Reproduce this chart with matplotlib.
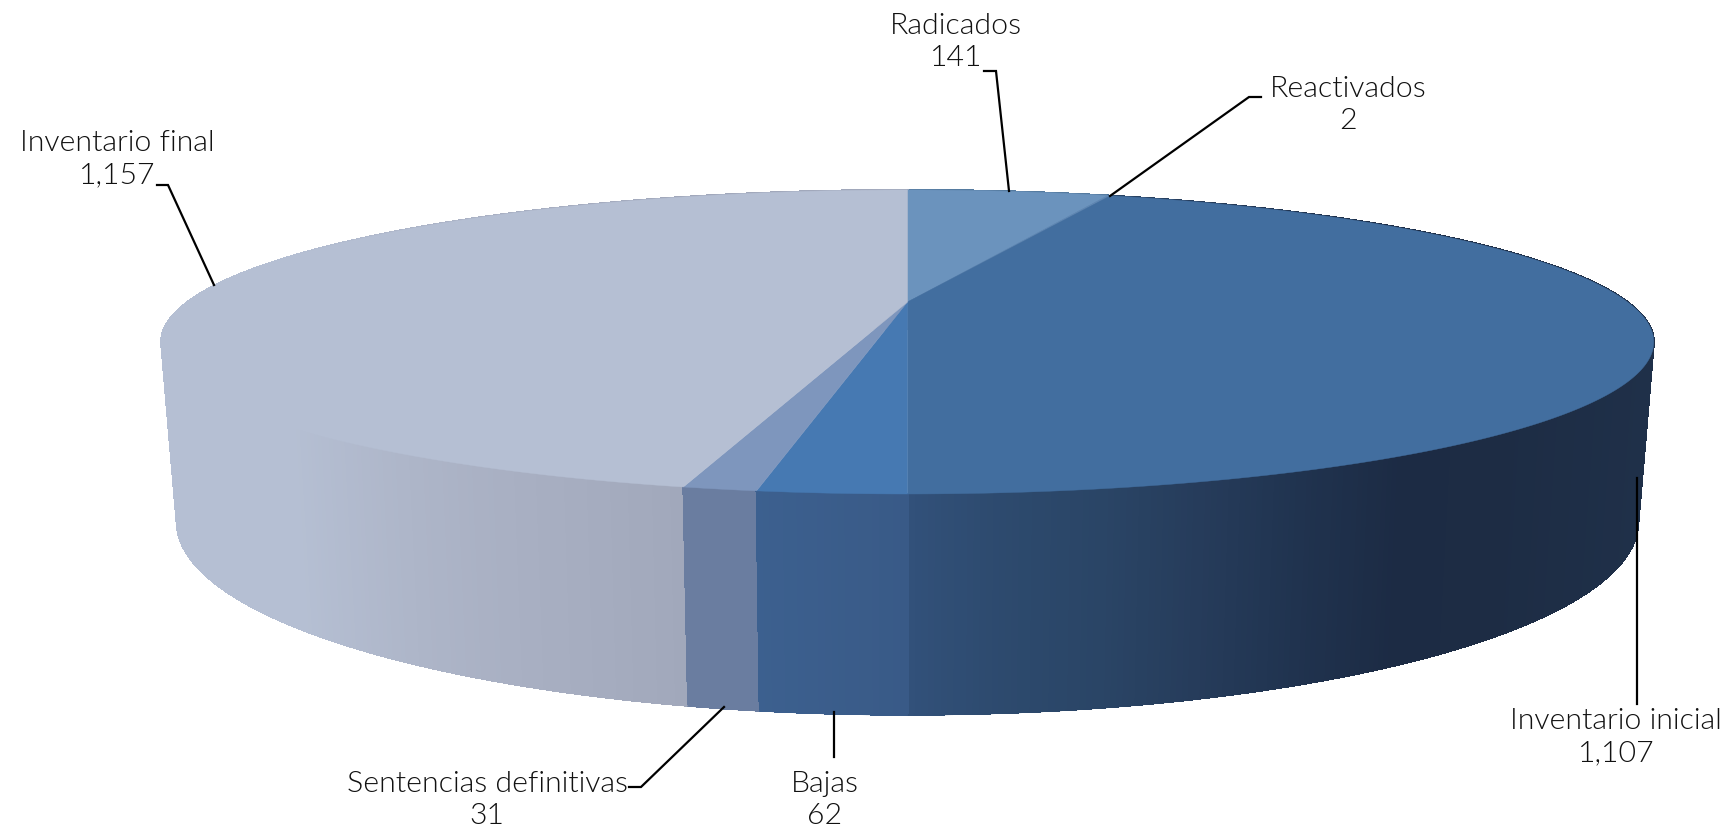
import numpy as np
import matplotlib
matplotlib.use("Agg")
import matplotlib.pyplot as plt
from matplotlib.collections import PolyCollection, LineCollection
from matplotlib.colors import to_rgb

# slices, clockwise from 12 o'clock
categories = ["Radicados", "Reactivados", "Inventario inicial", "Bajas",
              "Sentencias definitivas", "Inventario final"]
values = [141, 2, 1107, 62, 31, 1157]

top_colors = ["#6b93bd", "#5f86b2", "#426e9f", "#4679b2", "#7e96bd", "#b5bfd3"]
# side shading: (screen x, colour) stops for each slice
side_stops = [
    [(900, "#557ba0")],
    [(1100, "#4a6f95")],
    [(907, "#32517a"), (1000, "#2d4a6e"), (1100, "#2a4566"), (1200, "#263c5b"),
     (1300, "#20334f"), (1400, "#1c2b44"), (1500, "#1d2c44"), (1650, "#1f3049")],
    [(757, "#3c608f"), (907, "#395a87")],
    [(684, "#6a7da0"), (757, "#6a7da0")],
    [(160, "#b5bfd3"), (293, "#b5bfd3"), (400, "#aeb6c9"), (500, "#a9b0c3"),
     (600, "#a5acbf"), (684, "#a1a8bb")],
]

# label anchor (centre of the two lines) and leader line, in pixels
label_xy = [(956, 42), (1348, 105), (117, 159), (1616, 737), (487, 800), (825, 800)]
label_order = ["Radicados", "Reactivados", "Inventario final", "Inventario inicial",
               "Sentencias definitivas", "Bajas"]
leaders = [
    [(984, 71), (996, 71), (1009, 191)],
    [(1261, 97), (1249, 97), (1110, 196)],
    [(157, 185), (168, 185), (214, 285)],
    [(1637, 478), (1637, 704)],
    [(724, 707), (641, 787), (629, 787)],
    [(834, 712), (834, 757)],
]

CX = 907.5
K = 0.263


def project(theta, a, b, y0):
    """Disc angle (clockwise from the back) to screen position, with perspective."""
    u, v = np.sin(theta), np.cos(theta)
    w = 1 + K * v
    return CX + a * u / w, y0 - b * v / w


def top_rim(theta):
    return project(theta, 720, 141.5, 302)


def bottom_rim(theta):
    return project(theta, 705, 179.6, 471)


fig = plt.figure(figsize=(17.35, 8.3), dpi=100)
ax = fig.add_axes([0, 0, 1, 1])
ax.set_xlim(0, 1735)
ax.set_ylim(830, 0)
ax.axis("off")

edges = np.concatenate([[0], np.cumsum(values)]) / sum(values) * 2 * np.pi

strips, strip_colors, strip_depth, rim_segs = [], [], [], []
for i in range(len(values)):
    t = np.linspace(edges[i], edges[i + 1], max(int((edges[i + 1] - edges[i]) * 150), 2))
    xt, yt = top_rim(t)
    xb, yb = bottom_rim(t)
    sx = [s[0] for s in side_stops[i]]
    sc = np.array([to_rgb(s[1]) for s in side_stops[i]])
    for j in range(len(t) - 1):
        strips.append([(xt[j], yt[j]), (xt[j + 1], yt[j + 1]), (xb[j + 1], yb[j + 1]), (xb[j], yb[j])])
        rim_segs.append([(xb[j], yb[j]), (xb[j + 1], yb[j + 1])])
        mid = (xt[j] + xt[j + 1]) / 2
        strip_colors.append([np.interp(mid, sx, sc[:, c]) for c in range(3)])
        strip_depth.append(np.cos(t[j]))

# back strips first so the front ones cover them; no antialiasing or the seams show
order = np.argsort(strip_depth)[::-1]
ax.add_collection(PolyCollection([strips[o] for o in order],
                                 facecolors=[strip_colors[o] for o in order],
                                 edgecolors=[strip_colors[o] for o in order],
                                 linewidths=0.8, antialiaseds=False, zorder=1))
# smooth the lower edge again
ax.add_collection(LineCollection([rim_segs[o] for o in order],
                                 colors=[strip_colors[o] for o in order],
                                 linewidths=1.0, capstyle="round", zorder=1))

for i in range(len(values)):
    t = np.linspace(edges[i], edges[i + 1], 400)
    xt, yt = top_rim(t)
    ax.fill(np.r_[CX, xt], np.r_[302, yt], color=top_colors[i], lw=0.3, zorder=2)

for name, (lx, ly), line in zip(label_order, label_xy, leaders):
    ax.plot(*zip(*line), color="black", lw=1.6, solid_joinstyle="miter", zorder=3)
    val = values[categories.index(name)]
    ax.text(lx, ly, f"{name}\n{val:,}", ha="center", va="center", fontsize=21.8,
            family="Lato", weight=300, color="#111111", linespacing=1.3)

fig.savefig("out.png", dpi=100)
